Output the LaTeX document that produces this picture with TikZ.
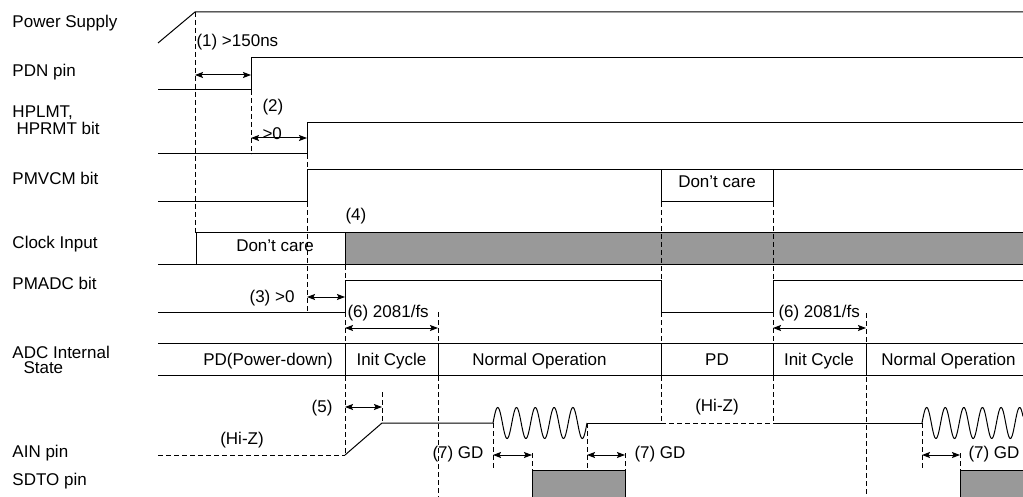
\documentclass[tikz,border=0pt]{standalone}
\usepackage{fontspec}
\setmainfont{Liberation Sans}
\usetikzlibrary{arrows.meta, positioning}
\definecolor{busygray}{RGB}{153,153,153}

\begin{document}
\begin{tikzpicture}[x=1pt, y=-1pt, line width=1pt,
    every node/.style={font=\fontsize{17}{17}\selectfont, inner sep=0pt},
    signame/.style={anchor=base west},
    tagl/.style={anchor=base west},
    tagr/.style={anchor=base east},
    statetext/.style={anchor=base},
    guide/.style={line width=0.8pt, dash pattern=on 5pt off 3pt},
    gap/.style={line width=1pt, {Stealth[length=8pt,width=6pt,inset=1.5pt]}-{Stealth[length=8pt,width=6pt,inset=1.5pt]}},
    busy/.style={draw=black, fill=busygray}]
\useasboundingbox (0,0) rectangle (1023,497);

% Signal names
\node (ps) [signame] at (12,28) {Power Supply};
\node (pdn) [signame] at (12,77) {PDN pin};
\node (hplmt) [signame] at (12,118) {HPLMT,};
\node (hprmt) [signame] at (16,135) {HPRMT bit};
\node (pmvcm) [signame] at (12,185) {PMVCM bit};
\node (clk) [signame] at (12,248) {Clock Input};
\node (pmadc) [signame] at (12,290) {PMADC bit};
\node (adc) [signame] at (12,358) {ADC Internal};
\node (adcstate) [signame] at (23,373) {State};
\node (ain) [signame] at (12,457) {AIN pin};
\node (sdto) [signame] at (12,485) {SDTO pin};

% Waveforms
\draw (158,43) -- (195,12) -- (1023,12);
\draw (158,90) -- (251,90) -- (251,58) -- (1023,58);
\draw (158,154) -- (307,154) -- (307,123) -- (1023,123);
\draw (158,202) -- (307,202) -- (307,170) -- (1023,170);
\draw (661,170) -- (661,202) -- (773,202) -- (773,170);
\fill [busygray] (345,233) rectangle (1030,265);
\draw (158,265) -- (1023,265);
\draw (196,265) -- (196,233) -- (1023,233);
\draw (345,233) -- (345,265);
\draw (158,312) -- (345,312) -- (345,280) -- (661,280) -- (661,312) -- (773,312) -- (773,280) -- (1023,280);
\draw (158,343) -- (1023,343);
\draw (158,375) -- (1023,375);
\foreach \x in {345,438,661,773,866}
    \draw (\x,343) -- (\x,375);
\draw [guide] (158,455) -- (345,455);
\draw (345,455) -- (382,423) -- (493,423);
\draw plot [domain=0:94, samples=200] ({493+\x},{423-15.5*sin(\x/18.8*360)});
\draw (587,423) -- (661,423);
\draw [guide] (661,423) -- (773,423);
\draw (773,423) -- (922,423);
\draw plot [domain=0:101, samples=200] ({922+\x},{423-15.5*sin(\x/18.6*360)});
\draw [busy] (532,470) rectangle (625,505);
\draw [busy] (960,470) rectangle (1030,505);

% Guides
\draw [guide] (195,12) -- (195,233);
\draw [guide] (251,90) -- (251,154);
\draw [guide] (307,154) -- (307,170);
\draw [guide] (307,202) -- (307,312);
\draw [guide] (345,265) -- (345,280);
\draw [guide] (345,312) -- (345,455);
\draw [guide] (382,392) -- (382,423);
\draw [guide] (438,312) -- (438,497);
\foreach \x in {493,587,922}
    \draw [guide] (\x,423) -- (\x,470);
\foreach \x in {532,625,960}
    \draw [guide] (\x,453) -- (\x,470);
\foreach \x in {661,773} {
    \draw [guide] (\x,202) -- (\x,280);
    \draw [guide] (\x,312) -- (\x,423);
}
\draw [guide] (866,313) -- (866,497);

% Texts
\node (dc1) [statetext] at (275,252) {Don’t care};
\node (dc2) [statetext] at (717,188) {Don’t care};
\node (st1) [statetext] at (268,365.5) {PD(Power-down)};
\node (st2) [statetext] at (391.5,365.5) {Init Cycle};
\node (st3) [statetext] at (539.5,365.5) {Normal Operation};
\node (st4) [statetext] at (717,365.5) {PD};
\node (st5) [statetext] at (819,365.5) {Init Cycle};
\node (st6) [statetext] at (948.5,365.5) {Normal Operation};
\node (hiz1) [statetext] at (242,444) {(Hi-Z)};
\node (hiz2) [statetext] at (717,411) {(Hi-Z)};
\node (tag1) [tagl] at (196,47) {(1) >150ns};
\node (tag2) [tagl] at (262,112) {(2)};
\node (tag2b) [tagl] at (262,140) {>0};
\node (tag3) [tagr] at (295,302) {(3) >0};
\node (tag4) [tagl] at (345,221) {(4)};
\node (tag5) [tagr] at (333,412) {(5)};
\node (tag6) [tagl] at (347,317) {(6) 2081/fs};
\node (tag6b) [tagl] at (778,317) {(6) 2081/fs};
\node (tag7) [tagl] at (432,458) {(7) GD};
\node (tag7b) [tagl] at (634,458) {(7) GD};
\node (tag7c) [tagl] at (968,458) {(7) GD};

% Arrows
\coordinate (a1) at (195,75);  \coordinate (b1) at (251,75);
\coordinate (a2) at (251,138); \coordinate (b2) at (307,138);
\coordinate (a3) at (307,297); \coordinate (b3) at (345,297);
\coordinate (a5) at (345,407); \coordinate (b5) at (382,407);
\coordinate (a6) at (345,328); \coordinate (b6) at (438,328);
\coordinate (c6) at (773,328); \coordinate (d6) at (866,328);
\draw [gap] (a1) -- (b1);
\draw [gap] (a2) -- (b2);
\draw [gap] (a3) -- (b3);
\draw [gap] (a5) -- (b5);
\draw [gap] (a6) -- (b6);
\draw [gap] (c6) -- (d6);
\foreach \x/\y in {493/532,587/625,922/960}
    \draw [gap] (\x,455) coordinate (g\x) -- (\y,455) coordinate (h\x);
\end{tikzpicture}
\end{document}
